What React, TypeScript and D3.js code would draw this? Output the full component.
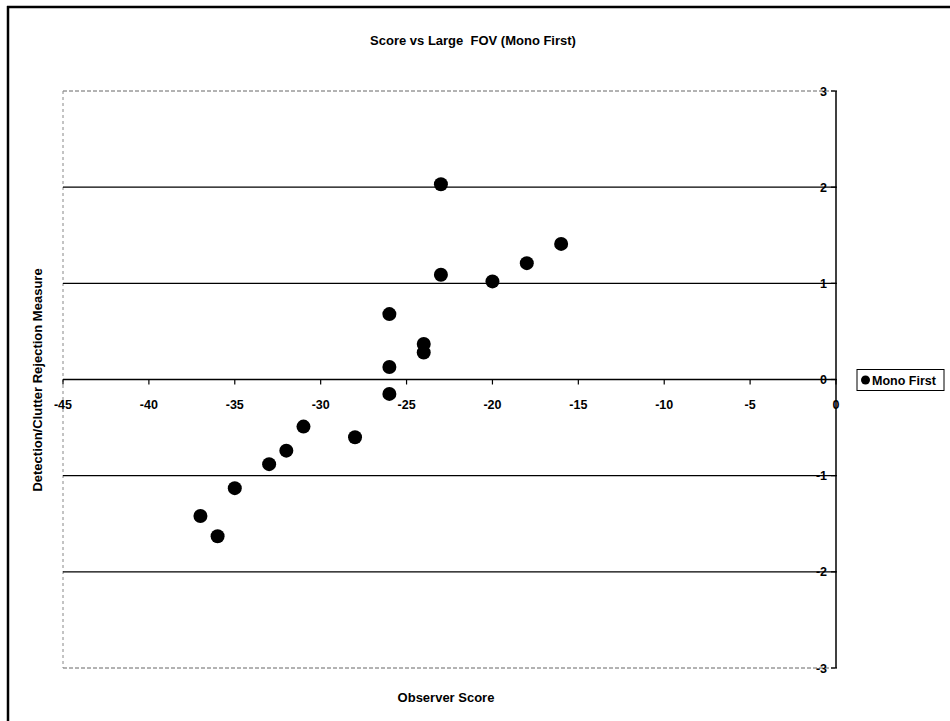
import React from "react";
import * as d3 from "d3";

const observerScore = [-23, -16, -18, -23, -20, -26, -24, -24, -26, -26, -28, -31, -32, -33, -35, -37, -36];
const measure = [2.03, 1.41, 1.21, 1.09, 1.02, 0.68, 0.37, 0.28, 0.13, -0.15, -0.6, -0.49, -0.74, -0.88, -1.13, -1.42, -1.63];
const xTicks = [-45, -40, -35, -30, -25, -20, -15, -10, -5, 0];
const yTicks = [3, 2, 1, 0, -1, -2, -3];
const gridValues = [2, 1, -1, -2];
const title = "Score vs Large  FOV (Mono First)";
const xLabel = "Observer Score";
const yLabel = "Detection/Clutter Rejection Measure";
const seriesName = "Mono First";

const W = 950;
const H = 721;
const font = "'Liberation Sans', Arial, sans-serif";

export default function App() {
  const x = d3.scaleLinear().domain([-45, 0]).range([63, 836]);
  const y = d3.scaleLinear().domain([-3, 3]).range([668, 91]);
  const [x0, x1] = x.range();
  const [yb, yt] = y.range();
  const y0 = y(0);

  return (
    <svg
      width={W}
      height={H}
      style={{ position: "absolute", left: 0, top: 0, background: "#fff" }}
      fontFamily={font}
    >
      <rect x={0} y={0} width={W} height={H} fill="#fff" />
      {/* outer frame */}
      <line x1={7} y1={7} x2={W} y2={7} stroke="#000" strokeWidth={2.5} />
      <line x1={8} y1={6} x2={8} y2={H} stroke="#000" strokeWidth={2.5} />

      {/* title */}
      <text x={473} y={45} textAnchor="middle" fontSize={13} fontWeight="bold" style={{ whiteSpace: "pre" }}>
        {title}
      </text>

      {/* plot area border (dashed) */}
      <line x1={x0} y1={yt} x2={x1} y2={yt} stroke="#666" strokeWidth={1} strokeDasharray="4,2" />
      <line x1={x0} y1={yb} x2={x1} y2={yb} stroke="#666" strokeWidth={1} strokeDasharray="4,2" />
      <line x1={x0} y1={yt} x2={x0} y2={yb} stroke="#888" strokeWidth={1} strokeDasharray="3,3" />

      {/* gridlines */}
      {gridValues.map((v) => (
        <line key={v} x1={x0} y1={y(v)} x2={x1} y2={y(v)} stroke="#000" strokeWidth={1.2} />
      ))}

      {/* x axis at y=0 */}
      <line x1={x0} y1={y0} x2={x1} y2={y0} stroke="#000" strokeWidth={1.5} />
      {xTicks.map((t) => (
        <g key={t}>
          <line x1={x(t)} y1={y0} x2={x(t)} y2={y0 + 5} stroke="#000" strokeWidth={1.2} />
          <text x={x(t)} y={y0 + 29} textAnchor="middle" fontSize={12.5} fontWeight="bold">
            {t}
          </text>
        </g>
      ))}

      {/* y axis at x=0 */}
      <line x1={x(0)} y1={yt} x2={x(0)} y2={yb} stroke="#000" strokeWidth={1.5} />
      {yTicks.map((t) => (
        <g key={t}>
          <line x1={x(0) - 5} y1={y(t)} x2={x(0) + 1} y2={y(t)} stroke="#000" strokeWidth={1.2} />
          <text x={x(0) - 9} y={y(t) + 4.5} textAnchor="end" fontSize={12.5} fontWeight="bold">
            {t}
          </text>
        </g>
      ))}

      {/* points */}
      {observerScore.map((s, i) => (
        <circle key={i} cx={x(s)} cy={y(measure[i])} r={7} fill="#000" />
      ))}

      {/* axis titles */}
      <text x={446} y={702} textAnchor="middle" fontSize={13} fontWeight="bold">
        {xLabel}
      </text>
      <text
        transform={`translate(42, 380) rotate(-90)`}
        textAnchor="middle"
        fontSize={13}
        fontWeight="bold"
      >
        {yLabel}
      </text>

      {/* legend */}
      <rect x={857} y={369.5} width={87} height={21} fill="#fff" stroke="#000" strokeWidth={1} />
      <circle cx={865.5} cy={380} r={4.5} fill="#000" />
      <text x={872} y={384.5} fontSize={12.5} fontWeight="bold">
        {seriesName}
      </text>
    </svg>
  );
}
